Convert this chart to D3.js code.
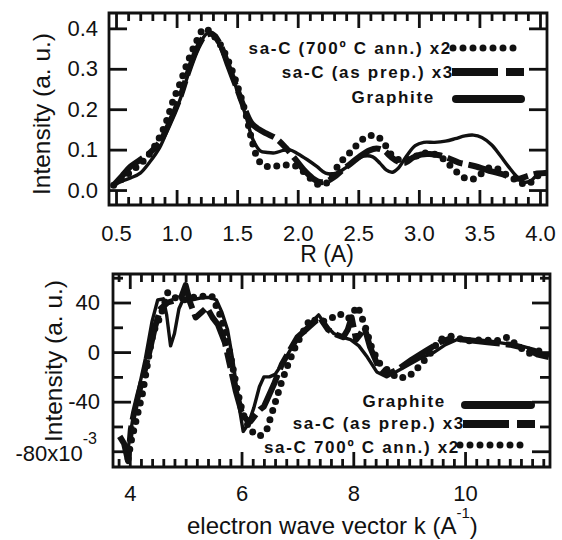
<!DOCTYPE html>
<html><head><meta charset="utf-8">
<script src="https://cdn.jsdelivr.net/npm/d3@7"></script>
<style>
html,body{margin:0;padding:0;background:#fff;}
svg{display:block;}
text{font-family:"Liberation Sans",Arial,sans-serif;fill:#111;}
</style></head>
<body>
<svg id="chart" width="562" height="540"></svg>
<script>
// ---------- Top panel data: R (A) vs intensity ----------
const topGraphiteR = [0.48,0.55,0.62,0.70,0.78,0.86,0.94,1.03,1.10,1.17,1.24,1.29,1.35,1.42,1.49,1.57,1.63,1.69,1.75,1.81,1.88,1.93,2.00,2.08,2.16,2.23,2.32,2.41,2.48,2.55,2.62,2.68,2.73,2.78,2.83,2.90,2.97,3.04,3.13,3.22,3.30,3.38,3.45,3.52,3.60,3.67,3.74,3.80,3.86,3.92,3.98,4.05];
const topGraphiteI = [0.012,0.022,0.030,0.042,0.070,0.105,0.160,0.225,0.290,0.345,0.385,0.390,0.360,0.310,0.255,0.185,0.125,0.097,0.093,0.092,0.098,0.100,0.090,0.075,0.058,0.042,0.042,0.058,0.074,0.084,0.082,0.066,0.050,0.044,0.054,0.085,0.110,0.118,0.118,0.121,0.127,0.134,0.136,0.130,0.112,0.086,0.058,0.036,0.020,0.022,0.038,0.045];

const topPrepR = [0.48,0.55,0.62,0.70,0.78,0.86,0.94,1.03,1.10,1.17,1.24,1.30,1.36,1.43,1.50,1.57,1.62,1.67,1.74,1.82,1.90,1.97,2.05,2.12,2.18,2.24,2.30,2.37,2.44,2.52,2.59,2.65,2.71,2.77,2.83,2.89,2.95,3.02,3.09,3.17,3.25,3.33,3.42,3.51,3.60,3.68,3.76,3.83,3.89,3.96,4.05];
const topPrepI = [0.012,0.035,0.058,0.075,0.092,0.118,0.165,0.230,0.295,0.350,0.383,0.385,0.360,0.305,0.250,0.195,0.165,0.152,0.140,0.128,0.105,0.080,0.050,0.030,0.020,0.022,0.032,0.050,0.066,0.085,0.098,0.103,0.098,0.082,0.070,0.068,0.080,0.088,0.089,0.086,0.078,0.068,0.062,0.055,0.046,0.040,0.032,0.028,0.034,0.040,0.042];

const topAnnR = [0.48,0.56,0.64,0.72,0.79,0.85,0.91,0.97,1.03,1.09,1.16,1.23,1.28,1.36,1.44,1.51,1.57,1.62,1.66,1.71,1.77,1.84,1.91,1.98,2.05,2.12,2.18,2.25,2.31,2.38,2.44,2.50,2.57,2.65,2.72,2.79,2.86,2.94,3.02,3.11,3.19,3.26,3.33,3.40,3.46,3.52,3.58,3.64,3.70,3.77,3.84,3.90,3.96,4.03];
const topAnnI = [0.012,0.030,0.050,0.070,0.095,0.125,0.165,0.220,0.265,0.315,0.365,0.400,0.390,0.360,0.310,0.250,0.190,0.125,0.085,0.062,0.058,0.060,0.062,0.060,0.045,0.025,0.013,0.020,0.050,0.078,0.095,0.115,0.132,0.134,0.112,0.082,0.074,0.078,0.090,0.090,0.080,0.060,0.040,0.027,0.028,0.042,0.055,0.054,0.042,0.030,0.018,0.014,0.030,0.045];

const topXTicks = [0.5,1.0,1.5,2.0,2.5,3.0,3.5,4.0];
const topYTicks = [0.0,0.1,0.2,0.3,0.4];

// ---------- Bottom panel data: k (A^-1) vs intensity (x10^-3) ----------
const botGraphiteK = [3.97,4.05,4.15,4.28,4.40,4.50,4.60,4.66,4.73,4.80,4.88,4.95,5.10,5.30,5.45,5.55,5.65,5.75,5.85,5.95,6.03,6.12,6.22,6.32,6.40,6.50,6.60,6.72,6.85,6.98,7.10,7.25,7.38,7.50,7.65,7.80,7.95,8.10,8.25,8.42,8.60,8.80,9.00,9.20,9.45,9.65,9.85,10.10,10.40,10.70,11.00,11.25,11.45];
const botGraphiteV = [-78,-55,-32,-5,25,42,43,30,5,15,35,42,42,44,44,42,32,18,-8,-42,-64,-58,-45,-28,-20,-20,-18,-10,0,10,16,24,30,22,15,12,10,5,-4,-16,-20,-15,-10,-5,0,6,10,10,9,7,5,2,-4];

const botPrepK = [3.82,3.90,3.97,4.02,4.08,4.15,4.25,4.35,4.45,4.55,4.68,4.82,4.92,5.00,5.08,5.18,5.28,5.38,5.48,5.58,5.70,5.80,5.90,6.00,6.08,6.16,6.26,6.34,6.40,6.46,6.58,6.72,6.87,7.00,7.15,7.30,7.40,7.55,7.70,7.82,7.90,7.97,8.05,8.12,8.20,8.30,8.45,8.60,8.80,9.05,9.30,9.55,9.75,10.00,10.40,10.80,11.10,11.30,11.50];
const botPrepV = [-68,-74,-88,-62,-48,-35,-18,0,20,35,40,42,44,54,40,28,32,36,28,22,8,-12,-32,-48,-54,-56,-50,-46,-44,-38,-26,-10,2,12,18,24,28,18,14,12,18,28,10,14,20,4,-12,-18,-14,-6,1,8,11,10,8,6,3,-2,-4];

const botAnnK = [3.97,4.03,4.13,4.23,4.29,4.36,4.42,4.55,4.68,4.80,5.00,5.20,5.47,5.60,5.73,5.83,5.92,6.02,6.15,6.32,6.45,6.58,6.71,6.84,6.97,7.10,7.23,7.42,7.59,7.75,7.91,8.08,8.21,8.34,8.47,8.60,8.79,8.99,9.19,9.38,9.54,9.77,10.03,10.30,10.56,10.75,10.95,11.14,11.34,11.46];
const botAnnV = [-86,-71,-52,-33,-17,2,16,29,48,44,42,45,45,32,13,-9,-30,-49,-63,-68,-63,-44,-25,-9,5,16,27,24,27,31,27,37,21,2,-9,-14,-21,-20,-11,-1,10,13,9,10,9,12,5,-1,1,2];

const botXTicks = [4,6,8,10];
const botYTicks = [40,0,-40,-80];

// ---------- drawing ----------
const svg = d3.select("#chart");
const FONT = '"Liberation Sans",Arial,sans-serif';

function zip(xs, ys){ return xs.map((x,i)=>[x, ys[i]]); }

function tickAxis(g, axisFn, scale, vals, size, transform){
  const a = g.append("g").attr("transform", transform)
    .call(axisFn(scale).tickValues(vals).tickSize(-size).tickSizeOuter(0).tickFormat(""));
  a.select(".domain").remove();
  a.selectAll(".tick line").attr("stroke","#111").attr("stroke-width",2.8);
}

function framePanel(g, x, y, o){
  const xr = x.range(), yr = y.range();
  const x0 = xr[0], x1 = xr[1], yB = yr[0], yT = yr[1];
  const isIn = (arr, v) => arr.some(m=>Math.abs(m-v)<1e-6);
  const xMin = o.xMinor.filter(v=>!isIn(o.xMajor, v));
  const yMin = o.yMinor.filter(v=>!isIn(o.yMajor, v));
  tickAxis(g, d3.axisBottom, x, xMin, 8, `translate(0,${yB})`);
  tickAxis(g, d3.axisTop, x, xMin, 8, `translate(0,${yT})`);
  tickAxis(g, d3.axisBottom, x, o.xMajor, 15, `translate(0,${yB})`);
  tickAxis(g, d3.axisTop, x, o.xMajor, 15, `translate(0,${yT})`);
  if(yMin.length){
    tickAxis(g, d3.axisLeft, y, yMin, 10, `translate(${x0},0)`);
    tickAxis(g, d3.axisRight, y, yMin, 10, `translate(${x1},0)`);
  }
  tickAxis(g, d3.axisLeft, y, o.yMajor, 18, `translate(${x0},0)`);
  tickAxis(g, d3.axisRight, y, o.yMajor, 18, `translate(${x1},0)`);
  g.append("path").attr("class","frame")
    .attr("d",`M${x0},${yT}H${x1}V${yB}H${x0}Z`)
    .attr("fill","none").attr("stroke","#111").attr("stroke-width",2.8);
}

function labelAxis(g, axis, transform){
  const a = g.append("g").attr("transform", transform).call(axis);
  a.select(".domain").remove();
  a.selectAll(".tick line").remove();
  a.attr("font-family", FONT).attr("font-size", 22);
  a.selectAll("text").attr("fill","#111");
  return a;
}

function drawSeries(g, x, y, data, kind, curve){
  const line = d3.line().x(d=>x(d[0])).y(d=>y(d[1])).curve(curve);
  const p = g.append("path").attr("d", line(data)).attr("fill","none").attr("stroke","#111")
    .attr("stroke-linejoin","round");
  if(kind==="solid") p.attr("stroke-width",3.4).attr("stroke-linecap","round");
  if(kind==="dash") p.attr("stroke-width",6).attr("stroke-dasharray","40 6 16 6").attr("stroke-linecap","butt");
  if(kind==="dot") p.attr("stroke-width",7).attr("stroke-dasharray","0 9.5").attr("stroke-linecap","round");
}

function legendRow(g, label, tx, ty, sx0, sx1, sy, kind){
  g.append("text").attr("x",tx).attr("y",ty).attr("text-anchor","end")
    .attr("font-size",17).attr("font-weight","bold").attr("letter-spacing","1.7px")
    .attr("dominant-baseline","central").text(label);
  const l = g.append("line").attr("x1",sx0).attr("x2",sx1).attr("y1",sy).attr("y2",sy).attr("stroke","#111");
  if(kind==="solid") l.attr("stroke-width",8).attr("stroke-linecap","round");
  if(kind==="dash") l.attr("stroke-width",8).attr("stroke-dasharray","46 8 18 20").attr("stroke-linecap","butt");
  if(kind==="dot") l.attr("stroke-width",7).attr("stroke-dasharray","0 10").attr("stroke-linecap","round");
}

// ===== TOP PANEL =====
{
  const x = d3.scaleLinear().domain([0.442, 4.058]).range([109, 547]);
  const y = d3.scaleLinear().domain([-0.037, 0.438]).range([205, 13]);
  const g = svg.append("g");
  const xMinor = d3.range(5, 41).map(v=>v/10);
  framePanel(g, x, y, {xMinor, xMajor: topXTicks, yMinor: topYTicks, yMajor: topYTicks});

  g.append("clipPath").attr("id","clipTop").append("rect")
    .attr("x",109).attr("y",13).attr("width",438).attr("height",192);
  const gd = g.append("g").attr("clip-path","url(#clipTop)");
  drawSeries(gd, x, y, zip(topGraphiteR, topGraphiteI), "solid", d3.curveCatmullRom);
  drawSeries(gd, x, y, zip(topPrepR, topPrepI), "dash", d3.curveCatmullRom);
  drawSeries(gd, x, y, zip(topAnnR, topAnnI), "dot", d3.curveCatmullRom);

  labelAxis(g, d3.axisLeft(y).tickValues(topYTicks).tickSize(0).tickPadding(11).tickFormat(d3.format(".1f")), "translate(109,0)");
  labelAxis(g, d3.axisBottom(x).tickValues(topXTicks).tickSize(0).tickPadding(20).tickFormat(d3.format(".1f")), "translate(0,205)");

  g.append("text").attr("x",327).attr("y",254).attr("text-anchor","middle")
    .attr("dominant-baseline","central").attr("font-size",23).text("R (A)");
  g.append("text").attr("transform","translate(41,114) rotate(-90)").attr("text-anchor","middle")
    .attr("dominant-baseline","central").attr("font-size",24.5).text("Intensity (a. u.)");

  legendRow(g, "sa-C (700º C ann.) x2", 452, 48, 453, 515, 48, "dot");
  legendRow(g, "sa-C (as prep.) x3", 454, 72, 452, 524, 72, "dash");
  legendRow(g, "Graphite", 435, 97, 456, 521, 99, "solid");
}

// ===== BOTTOM PANEL =====
{
  const x = d3.scaleLinear().domain([3.70, 11.52]).range([113, 550]);
  const y = d3.scaleLinear().domain([-92.7, 63]).range([467, 274]);
  const g = svg.append("g");
  const xMinor = d3.range(19, 58).map(v=>v/5);
  const yMinor = d3.range(-80, 61, 20);
  framePanel(g, x, y, {xMinor, xMajor: botXTicks, yMinor, yMajor: botYTicks});

  g.append("clipPath").attr("id","clipBot").append("rect")
    .attr("x",113).attr("y",274).attr("width",437).attr("height",193);
  const gd = g.append("g").attr("clip-path","url(#clipBot)");
  drawSeries(gd, x, y, zip(botGraphiteK, botGraphiteV), "solid", d3.curveLinear);
  drawSeries(gd, x, y, zip(botPrepK, botPrepV), "dash", d3.curveLinear);
  drawSeries(gd, x, y, zip(botAnnK, botAnnV), "dot", d3.curveLinear);

  const ya = labelAxis(g, d3.axisLeft(y).tickValues(botYTicks).tickSize(0).tickPadding(13)
    .tickFormat(v => v===-80 ? "-80x10" : String(v)), "translate(113,0)");
  ya.selectAll(".tick").filter(v=>v===-80).select("text")
    .attr("x",-16).attr("dy","0.42em")
    .append("tspan").attr("dy",-17).attr("font-size",16).text("-3");
  labelAxis(g, d3.axisBottom(x).tickValues(botXTicks).tickSize(0).tickPadding(18).tickFormat(d3.format("d")), "translate(0,467)");

  const xt = g.append("text").attr("x",187).attr("y",525).attr("text-anchor","start")
    .attr("dominant-baseline","central").attr("font-size",24);
  xt.append("tspan").text("electron wave vector k  (A");
  xt.append("tspan").attr("dy",-13).attr("font-size",15).text("-1");
  xt.append("tspan").attr("dy",13).text(")");
  g.append("text").attr("transform","translate(53,361) rotate(-90)").attr("text-anchor","middle")
    .attr("dominant-baseline","central").attr("font-size",24.5).text("Intensity (a. u.)");

  legendRow(g, "Graphite", 446, 401, 465, 531, 405, "solid");
  legendRow(g, "sa-C (as prep.) x3", 465, 423, 463, 537, 424, "dash");
  legendRow(g, "sa-C 700º C ann.) x2", 460, 447, 460, 527, 445, "dot");
}
</script>
</body></html>
